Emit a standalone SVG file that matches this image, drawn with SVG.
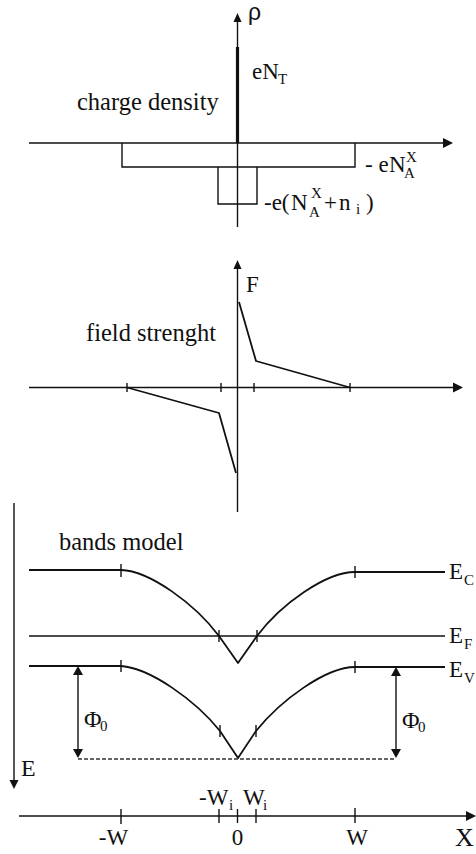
<svg xmlns="http://www.w3.org/2000/svg" width="476" height="854" viewBox="0 0 476 854">
<style>
.ln{stroke:#111;stroke-width:1.4;fill:none}
.cv{stroke:#111;stroke-width:1.8;fill:none;stroke-linejoin:round}
.ah{fill:#111;stroke:none}
text{font-family:'Liberation Serif','Times New Roman',serif;fill:#111}
.big{font-size:24.5px}
.m{font-size:23px}
.s{font-size:15px}
</style>
<rect width="476" height="854" fill="#fff"/>

<g id="charge-density">
  <line class="ln" x1="237.5" y1="227" x2="237.5" y2="20"/>
  <polygon class="ah" points="237.5,13 233.5,22 241.5,22"/>
  <line x1="237.5" y1="47" x2="237.5" y2="143" stroke="#111" stroke-width="3.2"/>
  <line class="ln" x1="29" y1="143" x2="445" y2="143"/>
  <polygon class="ah" points="453,143 443,138 443,148"/>
  <polyline class="ln" points="122,143 122,167 355,167 355,143"/>
  <polyline class="ln" points="218,167 218,204 257,204 257,167"/>
  <text class="m" x="248" y="20" style="font-family:'Liberation Sans',Arial,sans-serif">ρ</text>
  <text class="m" x="252" y="79">eN</text>
  <text class="s" x="278" y="84">T</text>
  <text class="big" x="77" y="110">charge density</text>
  <text class="m" x="365" y="172">- e</text>
  <text class="m" x="389" y="172">N</text>
  <text class="s" x="404" y="178">A</text>
  <text class="s" x="406" y="162">X</text>
  <text class="m" x="264" y="210">-e(</text>
  <text class="m" x="291" y="210">N</text>
  <text class="s" x="309" y="217">A</text>
  <text class="s" x="311" y="198">X</text>
  <text class="m" x="324" y="210">+</text>
  <text class="m" x="339" y="210">n</text>
  <text class="s" x="356" y="214">i</text>
  <text class="m" x="366" y="210">)</text>
</g>

<g id="field-strength">
  <line class="ln" x1="237.5" y1="512" x2="237.5" y2="268"/>
  <polygon class="ah" points="237.5,260 233.5,269 241.5,269"/>
  <line class="ln" x1="29" y1="387.5" x2="455" y2="387.5"/>
  <polygon class="ah" points="463,387.5 453,382.5 453,392.5"/>
  <polyline class="cv" points="127,387.5 219,413 236,473"/>
  <polyline class="cv" points="239,302 256,361 350,387.5"/>
  <g class="ln">
    <line x1="127" y1="383" x2="127" y2="392"/>
    <line x1="221" y1="383" x2="221" y2="392"/>
    <line x1="254" y1="383" x2="254" y2="392"/>
    <line x1="350" y1="383" x2="350" y2="392"/>
  </g>
  <text class="m" x="246" y="292">F</text>
  <text class="big" x="86" y="341">field strenght</text>
</g>

<g id="bands-model">
  <line class="ln" x1="14" y1="503" x2="14" y2="781"/>
  <polygon class="ah" points="14,789 9.5,780 18.5,780"/>
  <text class="m" x="21" y="776" style="font-size:24px">E</text>
  <text class="big" x="59" y="550">bands model</text>
  <path class="cv" d="M29,570 H121 C150,571 195,604 219,636 L238,663 L257,636 C281,604 326,572 355,572 H445"/>
  <line class="ln" x1="29" y1="636" x2="445" y2="636"/>
  <path class="cv" d="M29,666 H121 C150,668 195,700 220,731 L238,758 L256,731 C281,700 326,667 355,667 H445"/>
  <g class="ln">
    <line x1="121" y1="564" x2="121" y2="577"/>
    <line x1="355" y1="566" x2="355" y2="578"/>
    <line x1="219" y1="630" x2="219" y2="642"/>
    <line x1="257" y1="630" x2="257" y2="642"/>
    <line x1="121" y1="660" x2="121" y2="672"/>
    <line x1="355" y1="661" x2="355" y2="673"/>
    <line x1="220" y1="725" x2="220" y2="737"/>
    <line x1="256" y1="725" x2="256" y2="737"/>
  </g>
  <text class="m" x="449" y="579">E</text>
  <text class="s" x="464" y="585">C</text>
  <text class="m" x="449" y="643">E</text>
  <text class="s" x="464" y="649">F</text>
  <text class="m" x="449" y="677">E</text>
  <text class="s" x="464" y="683">V</text>
  <line class="ln" x1="78" y1="674" x2="78" y2="750"/>
  <polygon class="ah" points="78,666 73,675 83,675"/>
  <polygon class="ah" points="78,758 73,749 83,749"/>
  <line class="ln" x1="396" y1="675" x2="396" y2="750"/>
  <polygon class="ah" points="396,667 391,676 401,676"/>
  <polygon class="ah" points="396,758 391,749 401,749"/>
  <line x1="78" y1="759" x2="396" y2="759" stroke="#333" stroke-width="1.3" stroke-dasharray="4,2"/>
  <text class="m" x="84" y="727" style="font-size:24px">Φ</text>
  <text class="s" x="100" y="731">0</text>
  <text class="m" x="402" y="728" style="font-size:24px">Φ</text>
  <text class="s" x="418" y="732">0</text>
</g>

<g id="x-axis">
  <line class="ln" x1="19" y1="816" x2="467" y2="816"/>
  <polygon class="ah" points="476,816 466,811 466,821"/>
  <g class="ln">
    <line x1="121" y1="809" x2="121" y2="824"/>
    <line x1="219" y1="809" x2="219" y2="823"/>
    <line x1="237.5" y1="809" x2="237.5" y2="823"/>
    <line x1="256" y1="809" x2="256" y2="823"/>
    <line x1="355" y1="808" x2="355" y2="823"/>
  </g>
  <text class="m" x="113.5" y="845" text-anchor="middle">-W</text>
  <text class="m" x="237.5" y="845" text-anchor="middle">0</text>
  <text class="m" x="357" y="845" text-anchor="middle">W</text>
  <text x="455" y="846" style="font-size:26px">X</text>
  <text class="m" x="199" y="805">-W</text>
  <text class="s" x="229" y="810">i</text>
  <text class="m" x="243" y="805">W</text>
  <text class="s" x="263" y="810">i</text>
</g>
</svg>
